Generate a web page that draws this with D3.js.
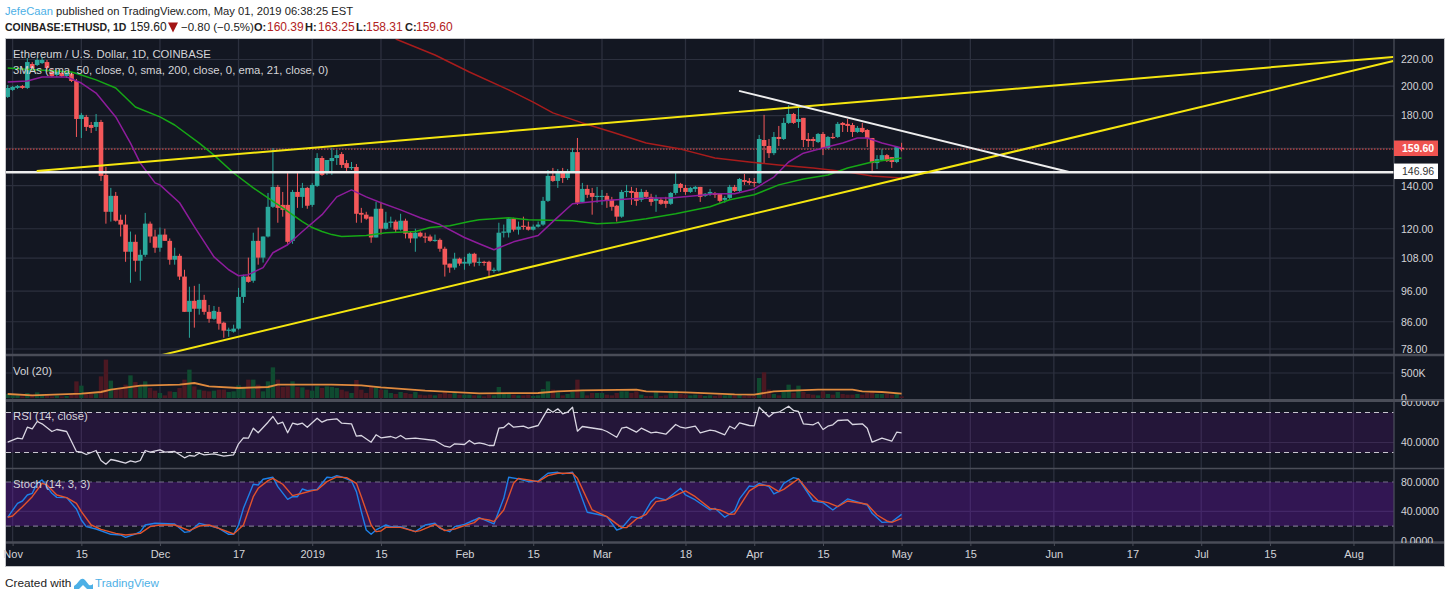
<!DOCTYPE html>
<html>
<head>
<meta charset="utf-8">
<script src="https://cdn.jsdelivr.net/npm/d3@7/dist/d3.min.js"></script>
<style>
    html, body { margin: 0; padding: 0; background: #fff; overflow: hidden; }
    text { font-family: "Liberation Sans", sans-serif; }
</style>
</head>
<body>
<div id="container"></div>
<script>
// daily candles, first one is 2018-10-31
var opens = [192.4,197.3,198.7,200.1,198.7,216.5,215.7,217.2,218,211.1,208.1,209.6,207.4,208.9,203.7,177.8,179.1,174,172.8,175.9,145.5,127.5,135,123.9,121.8,110.5,114.5,107,109.3,122.2,116.7,112.1,117.5,114.9,107.4,108.9,101.1,89.1,92.7,90.1,93,89.1,86.9,89.1,85.7,83.3,83,83.9,94,101.1,99.6,114.9,108.2,116.7,129.8,139.4,130.7,130.7,114.9,136.9,134.5,138.9,130.7,139.9,154.6,147,152.9,154.6,156.8,151.8,149.2,149.7,127,126.2,125.3,116.3,128.9,120,122.6,123.1,119.6,123.5,118.3,115.9,118.3,116.7,116.7,114.9,115.3,111.7,105.9,104.4,107.8,105.9,105.9,109.7,106.3,106.6,106.6,103.3,103.3,118.3,118.3,124.4,119.6,121.3,120.9,119.6,120.9,121.8,132.6,145,142.4,147,143.9,146.5,157.9,132.1,138.4,136.4,134.5,134.5,135,133.1,130.3,125.3,136.9,137.4,136.9,133.1,136.9,134.5,132.6,133.1,132.6,131.2,136.4,140.9,138.9,136.9,138.4,139.4,135,136,136.4,136,133.1,134,139.4,137.4,142.9,142.4,141.9,141.4,164.9,161.4,157.3,166.7,165.5,175.3,181,175.9,178.5,165.5,165.5,163.7,168.5,160.2,166.7,166.7,175.3,174.7,174,169.7,172.2,170.9,166.1,151.8,153.5,156.2,155.1,152.4,160.39];
var highs = [200.8,200.1,200.8,200.8,221.2,218,221.2,222,219.6,213.4,211.1,210.4,210.4,209.6,205.2,181.7,180.4,175.9,181,177.2,149.7,138.9,136.9,126.2,126.2,118.8,117.5,111.3,127,123.1,119.6,120.5,120,115.9,112.1,109.7,103.6,97.5,97.8,98.5,94.7,91.3,91,90.7,86,84.2,85.1,97.1,101.8,108.2,118.3,120.5,116.7,136.4,160.2,140.4,136.9,146.5,137.9,147,141.4,139.4,141.4,157.3,155.7,153.5,160.2,159.1,157.9,153.5,152.4,151.3,129.3,127.5,125.3,132.1,132.1,127.5,125.3,123.9,126.6,124.4,118.8,120,118.8,118.3,117.5,117.5,115.9,112.5,105.9,110.1,108.2,108.5,110.1,110.1,108.2,107,107,104.4,122.6,121.8,124.8,124.8,123.1,125.3,123.1,121.8,123.1,134.5,148.1,149.2,148.6,149.2,148.6,160.2,166.1,141.4,140.4,138.9,139.4,137.9,136.4,134.5,130.7,137.9,140.4,139.4,138.9,138.4,137.9,136,135.5,134,134.5,136.9,146.5,141.4,140.4,139.4,139.9,139.4,136.4,138.4,136.9,136.4,135,140.4,140.4,143.9,146,143.9,143.9,167.9,180.4,165.5,169.7,173.4,178.5,186.8,181.7,184.9,178.5,169.1,166.7,169.1,169.7,167.3,169.1,175.9,175.9,177.8,175.3,173.4,175.3,171.5,166.1,156.2,159.6,156.8,155.1,161.4,163.25];
var lows = [191.7,196.6,198,198,198,210.4,214.9,216.5,210.4,206.6,206.6,206.6,205.9,202.9,166.7,166.1,170.3,169.1,170.3,142.4,122.2,123.1,123.1,116.7,106.6,98.9,102.9,99.6,108.5,114.1,110.1,110.5,114.9,105.5,105.5,99.9,89.1,81.2,84.2,88.2,88.2,85.7,86.6,83.6,81.2,81.5,82.7,83.6,92,98.9,98.9,105.5,106.3,116.3,129.3,122.6,125.3,113.7,113.7,129.3,129.3,128.9,129.8,139.4,145,145.5,145.5,150.8,149.2,147.6,148.1,122.6,122.6,123.9,114.1,116.3,117.5,119.6,120.5,118.3,119.2,115.9,114.1,110.5,116.3,114.1,114.5,114.5,110.5,101.1,102.5,103.6,105.1,103.6,105.1,104.8,105.1,105.1,101.1,102.5,102.9,116.3,116.3,118.8,117.5,119.6,119.2,119.2,120.5,121.3,132.1,141.9,138.9,141.4,142.9,146.5,130.7,131.7,134,126.2,131.7,130.7,129.3,128,123.1,124.8,134.5,130.7,130.3,132.1,134,130.3,127.5,130.7,129.3,130.7,135.5,136.9,135.5,136.4,136.9,132.1,134.5,135,134,131.7,131.7,133.1,136.9,136.9,140.4,140.4,139.4,140.9,151.3,154.6,156.2,161.4,164.9,174.7,174.7,172.2,160.8,160.8,160.8,163.1,156.2,159.6,165.5,166.1,169.7,169.7,166.7,169.1,169.1,160.8,147.6,148.6,152.9,152.4,149.2,151.8,158.31];
var closes = [198.7,199.4,200.1,198.7,218,213.4,219.6,219.6,213.4,207.4,210.4,207.4,209.6,203.7,177.8,180.4,172.8,172.2,175.9,145,127.5,135,123.5,121.8,110.5,114.5,107,109.3,122.2,116.7,112.1,117.5,114.9,107.4,108.9,101.1,89.1,92.7,90.1,93,89.1,86.9,89.4,85.4,83.3,83.6,83.9,94,101.1,99.2,114.9,108.2,116.7,129.8,139.4,129.3,128.4,114.5,136.9,134.5,138.9,130.3,140.4,154.6,145.5,153.5,154.6,156.2,150.8,149.2,149.7,126.6,126.2,124.4,116.3,128.9,120,122.6,123.1,119.6,123.5,117.9,115.9,118.3,116.7,116.3,114.9,115.3,111.7,105.5,104.4,107.8,105.9,106.6,109.7,106.3,106.6,106.3,103.3,103.6,118.3,118.8,124.4,119.6,120.9,120.9,119.6,120.9,121.8,132.6,145,142.4,146.5,143.9,146.5,157.9,131.7,138.4,135.5,134.5,135,135,132.6,129.8,125.3,136.9,137.4,136.4,132.6,136.9,134.5,132.1,133.6,131.2,131.2,136.4,140.9,138.9,136.9,138.9,139.4,134.5,136,136.9,135.5,132.6,134,139.4,137.4,143.4,141.9,141.4,141.4,165.5,161.4,157.3,166.7,165.5,175.3,181,175.3,177.8,164.9,164.3,164.3,168.5,160.2,166.7,166.1,174.7,174,173.4,169.7,172.2,169.7,166.1,151.8,154,156.2,152.9,152.4,160.8,159.6];
// thousands
var volumes = [80,53,53,33,100,67,113,67,53,33,47,33,40,67,333,247,100,80,87,433,767,347,167,200,267,453,320,233,333,200,147,100,53,133,120,200,367,567,233,167,147,133,147,167,167,120,133,253,200,367,367,267,133,333,613,367,220,233,333,220,213,167,147,233,200,233,220,200,167,133,100,360,167,100,233,213,167,167,100,80,120,100,80,120,67,53,67,53,80,120,80,100,67,67,67,53,53,33,67,53,220,80,80,67,53,53,67,40,53,180,333,167,113,53,80,120,367,133,53,100,100,100,67,53,100,133,133,100,133,67,40,40,120,40,53,100,147,80,67,53,67,67,40,53,40,67,53,80,53,80,40,53,40,400,513,167,80,53,120,267,100,247,120,80,67,53,133,80,67,120,80,67,67,80,67,100,120,80,80,80,67,100,33];

// indicator lines, read at the turning points: day offset from Nov 1 and value
var smaFastDays = [-1,2,12,14,17,21,25,30,33,38,41,45,49,52,55,59,61,63,65,67,72,76,82,85,89,93,95,101,105,114,119,123,129,135,142,146,151,156,161,166,170,175,181];
var smaFastValues = [213.4,212.6,210.4,208.1,204.5,198.7,185.6,179.1,174,163.1,156.2,146.5,138.9,134,129.3,123.1,120.5,118.8,117.5,116.7,117.1,118.3,118.8,120.5,121.3,123.1,123.9,124.8,123.9,123.5,122.2,122.6,124.4,126.6,129.8,133.1,135.5,140.4,143.4,145.5,149.2,152.4,154.6];
var smaSlowDays = [78,86,93,101,106,110,116,122,129,136,143,150,156,163,170,175,181];
var smaSlowValues = [236.8,223.6,210.4,197.3,188.9,181.7,175.3,169.7,163.1,159.6,154.6,152.4,150.8,149.2,147,145,143.9];
var emaDays = [-1,3,6,11,14,17,21,24,26,29,30,34,37,41,44,46,48,51,53,56,59,63,66,69,72,75,79,83,87,92,95,98,102,107,110,114,116,120,126,131,134,139,143,147,151,155,158,161,165,169,172,174,177,181];
var emaValues = [203,203.7,206.7,206.7,202.2,195.1,179.1,163.1,151.8,141.4,140.4,131.7,120.9,108.5,103.6,101.4,101.8,104.4,110.1,113.3,118.8,126.2,134.5,137.9,134.5,131.7,128.4,124.8,121.8,116.3,113.7,111.3,114.5,117.1,123.1,131.2,131.7,132.6,133.6,134,134,135,136,136,138.4,144.4,152.4,157.3,160.2,163.1,166.1,166.1,163.1,160.2];
var volMaDays = [-1,4,14,18,20,26,34,37,40,46,52,54,65,71,75,84,95,107,111,116,127,129,137,147,151,155,164,171,173,177,181];
var volMaValues = [80,53,87,120,167,247,267,300,233,200,220,267,267,253,213,147,93,100,133,153,167,133,113,73,67,133,167,167,133,120,87];
var rsiDays = [-1,1,2,3,4,5,6,8,9,11,13,14,15,17,18,19,20,21,23,24,25,26,27,28,30,31,33,35,36,37,38,39,41,43,45,46,47,48,49,50,52,53,54,55,56,57,58,59,60,62,63,64,66,67,69,70,71,73,74,75,77,78,79,80,82,86,88,89,90,92,93,94,95,96,97,98,99,100,101,102,104,105,107,108,109,110,111,112,113,114,115,116,120,121,123,124,125,127,128,130,131,133,135,136,137,139,140,142,143,145,146,147,148,150,151,152,154,155,156,158,159,160,161,163,164,165,166,167,168,170,171,173,174,175,177,179,180,181];
var rsiValues = [40.3,44.3,43.7,55.3,53.7,61,58.7,51,53,51,31,30.3,28,32,22,18.3,23,22,19.3,21.7,20.3,22,32,30.3,32.7,30.3,31,24.7,27,26.3,29.3,27.7,28.7,26.3,27.7,38.7,44.7,44.3,54.3,49.7,60.3,66,58.7,60.3,49.7,59.3,58,59.3,55.3,64.3,60.3,62.7,63.7,59.3,58.7,46.3,47,40.3,47.7,44.7,46,44.3,47,43.7,44.3,42,36.3,35.3,38.7,38,42,38.7,39.7,38.7,37,37,54.3,55,59.3,55.3,56.3,54.3,57,65.3,73.7,70.3,73.7,68.7,70.3,75.3,51.3,56,53,51,45.3,54.3,55.3,50.3,54.3,49.7,50.3,48.3,58,55.3,54.3,56.3,49.7,52.3,51.7,47.7,56.3,53.7,59.7,57,56.7,75.3,65.7,69.7,70.3,76.3,72,71,58.7,57.7,60.3,53,56.3,57.7,62,62.7,58,58.7,54.3,40.3,44.3,41.3,50.3,49.7];
var stochKDays = [-1,1,2,3,4,5,6,7,8,9,11,13,14,15,17,20,22,23,25,26,27,29,33,35,36,38,40,42,44,45,46,47,49,50,51,53,54,56,57,58,59,60,62,64,65,66,67,69,70,71,72,73,74,76,77,79,82,84,86,87,89,90,92,94,95,98,100,101,103,105,107,109,111,112,114,117,119,121,123,124,126,128,130,131,133,136,137,139,142,143,145,147,148,150,151,152,154,155,156,157,159,160,163,165,167,170,174,175,177,179,181];
var stochKValues = [31.9,51,54.1,62.3,64.6,78.2,82.8,73.7,64.6,59.1,58.7,43.2,28.2,19.1,15.9,8.7,7.8,4.6,9.1,12.3,21.4,23.7,22.8,11.4,12.3,23.7,20.5,16.9,8.7,8.7,21.4,44.1,76.9,76,83.7,86.4,73.7,56.4,60,60,70.5,68.2,70,86.4,86,88.7,86.9,81.4,66.9,39.6,14.6,8.7,14.6,21.4,19.1,19.1,12.3,21.4,23.7,16.9,12.3,19.1,22.3,28.2,31.4,22.8,57.8,86.4,84.2,80.5,81.4,91.9,93.2,91,93.2,38.7,36,32.8,14.6,16.9,32.8,30.5,53.2,59.1,55.5,71.4,62.3,55.5,41.9,44.1,31.9,41,56.9,74.6,73.7,78.2,73.7,63.7,66.9,78.2,86,84.2,54.1,51.9,41.9,56.9,48.7,37.3,25,25.9,35.9];
var stochDDays = [-1,0,2,4,6,7,9,11,13,14,16,18,21,23,26,28,30,33,36,38,40,42,45,47,49,50,52,53,55,57,59,61,62,64,66,68,70,71,73,74,75,76,79,82,83,86,88,90,92,94,95,97,98,100,102,103,105,107,109,111,114,115,118,121,124,125,127,129,131,133,137,139,142,144,146,147,150,152,154,156,157,160,162,164,166,168,170,174,176,178,179,181];
var stochDValues = [31.9,33.7,46.4,60,78.2,76,62.3,58.7,51,39.6,21.4,15.5,10,7.8,10,19.1,21.4,21.4,13.7,20,21.4,16.9,9.1,21.4,60,71.4,81.9,85,76.9,61.4,64.6,68.2,69.2,80.5,86.9,86,78.2,60,21.4,12.3,13.2,18.2,18.2,12.3,13.7,22.3,13.7,15.9,20.5,24.6,30.5,28.2,26,41.9,78.2,85,82.8,80.5,88.7,91.9,91.9,85,41.9,32.8,17.8,17.8,29.6,36,53.2,55.5,67.8,60,44.1,41.9,36,36.4,67.8,76,75.1,66.9,70,84.2,67.8,54.6,51.9,46.4,54.1,49.6,35,26.9,25,30.5];

// hand drawn lines on the chart: [day, price] ends
var yellowUpperDays = [4.9,281.1];
var yellowUpperPrices = [147.6,222];
var yellowLowerDays = [30.3,281.1];
var yellowLowerPrices = [76.3,218.8];
var whiteTrendDays = [147.9,215.1];
var whiteTrendPrices = [196.6,147];
var supportPrice = 146.96;
var lastPrice = 159.60;

var priceTicks = [220,200,180,160,140,120,108,96,86,78];
var priceTickLabels = [220,200,180,140,120,108,96,86,78];
var volTicks = [0,500];
var rsiTicks = [40,80];
var rsiBands = [30,70];
var stochTicks = [0,40,80];
var stochBands = [20,80];
var timeTicks = ["2018-11-01","2018-11-15","2018-12-01","2018-12-17","2019-01-01","2019-01-15","2019-02-01","2019-02-15","2019-03-01","2019-03-18","2019-04-01","2019-04-15","2019-05-01","2019-05-15","2019-06-01","2019-06-17","2019-07-01","2019-07-15","2019-08-01"];
var timeLabels = ["Nov","15","Dec","17","2019","15","Feb","15","Mar","18","Apr","15","May","15","Jun","17","Jul","15","Aug"];

var width = 1450, height = 599;
var paneLeft = 6, paneRight = 1394, outerRight = 1444, paneTop = 39, timeTop = 543, paneBottom = 566;
var mainBottom = 354, volTop = 356, volBottom = 400, rsiTop = 402, rsiBottom = 468, stochTop = 469;

var bg = "#131722", gridCol = "#2c303e", dividerCol = "#4a4d58", textCol = "#d3d4d8";
var upCol = "#2aa79b", downCol = "#f4585a";

var dayZero = new Date(Date.UTC(2018, 10, 1));
function dayDate(d){
    return new Date(dayZero.getTime() + d * 864e5);
}

var x = d3.scaleUtc().domain([dayDate(0), dayDate(181)]).range([12.6, 901.6]);
var yPrice = d3.scaleLog().domain([78, 220]).range([349, 59.5]);
var yVol = d3.scaleLinear().domain([0, 500]).range([398, 373]);
var yRsi = d3.scaleLinear().domain([40, 80]).range([442.5, 402.5]);
var yStoch = d3.scaleLinear().domain([0, 80]).range([540.7, 482]);

var svg = d3.select("#container").append("svg")
    .attr("width", width)
    .attr("height", height);

// header
var head = svg.append("text").attr("x", 5).attr("y", 15).style("font-size", "11.2px").attr("fill", "#222");
head.append("tspan").attr("fill", "#4db0e6").text("JefeCaan");
head.append("tspan").text(" published on TradingView.com, May 01, 2019 06:38:25 EST");

var row = svg.append("g");
var rowItems = [
    [5, "COINBASE:ETHUSD, 1D", "#222", 700, 10.5], [130, "159.60", "#222", 400, 12],
    [181, "\u22120.80 (\u22120.5%)", "#222", 400, 11.5], [254, "O:", "#222", 700, 11], [267, "160.39", "#b22222", 400, 12],
    [305, "H:", "#222", 700, 11], [318, "163.25", "#b22222", 400, 12], [356, "L:", "#222", 700, 11], [366, "158.31", "#b22222", 400, 12],
    [405, "C:", "#222", 700, 11], [416, "159.60", "#b22222", 400, 12]
];
rowItems.forEach(function(it){
    row.append("text").attr("x", it[0]).attr("y", 31).attr("fill", it[2]).attr("font-weight", it[3])
        .style("font-size", it[4] + "px").text(it[1]);
});
svg.append("path").attr("d", "M168,22.5h10l-5,10z").attr("fill", "#a31515");

// chart background
svg.append("rect")
    .attr("x", paneLeft - 0.5).attr("y", paneTop - 0.5)
    .attr("width", outerRight - paneLeft + 1).attr("height", paneBottom - paneTop + 1)
    .attr("fill", bg).attr("stroke", "#c4c5c8");

// clip per pane
var defs = svg.append("defs");
function addClip(id, y0, y1, x1){
    defs.append("clipPath").attr("id", id).append("rect")
        .attr("x", paneLeft).attr("y", y0).attr("width", x1 - paneLeft).attr("height", y1 - y0);
}
addClip("clipMain", paneTop, mainBottom, paneRight);
addClip("clipVol", volTop, volBottom, paneRight);
addClip("clipRsi", rsiTop, rsiBottom, paneRight);
addClip("clipStoch", stochTop, timeTop - 1, paneRight);
addClip("clipMainAxis", paneTop, mainBottom, outerRight);
addClip("clipVolAxis", volTop - 2, volBottom, outerRight);
addClip("clipRsiAxis", rsiTop - 1, rsiBottom, outerRight);
addClip("clipStochAxis", stochTop, timeTop, outerRight);

// vertical grid + time axis
var tickDates = timeTicks.map(function(s){ return new Date(s + "T00:00:00Z"); });
var timeAxis = d3.axisBottom(x)
    .tickValues(tickDates)
    .tickSize(3)
    .tickFormat(function(d, i){ return timeLabels[i]; });
svg.append("g").attr("class", "vgrid").selectAll("line")
    .data(tickDates).enter().append("line")
    .attr("x1", function(d){ return x(d); })
    .attr("x2", function(d){ return x(d); })
    .attr("y1", paneTop).attr("y2", timeTop)
    .attr("stroke", gridCol).attr("stroke-width", 1.3);

var timeG = svg.append("g").attr("transform", "translate(0," + timeTop + ")").call(timeAxis);
timeG.select(".domain").remove();
timeG.selectAll("line").attr("stroke", dividerCol);
timeG.selectAll("text")
    .attr("fill", textCol).attr("y", 7).style("font-size", "11px")
    .style("font-family", "'Liberation Sans', sans-serif");

// horizontal grid
function hGrid(values, scale){
    svg.append("g").selectAll("line").data(values).enter().append("line")
        .attr("x1", paneLeft).attr("x2", paneRight)
        .attr("y1", function(d){ return scale(d); })
        .attr("y2", function(d){ return scale(d); })
        .attr("stroke", gridCol).attr("stroke-width", 1.2);
}
hGrid(priceTicks, yPrice);
hGrid([500], yVol);
hGrid([40], yRsi);
hGrid([40], yStoch);

// rsi / stoch bands sit over the grid
svg.append("rect").attr("x", paneLeft).attr("width", paneRight - paneLeft)
    .attr("y", yRsi(rsiBands[1])).attr("height", yRsi(rsiBands[0]) - yRsi(rsiBands[1]))
    .attr("fill", "#7a14aa").attr("fill-opacity", 0.17);
svg.append("rect").attr("x", paneLeft).attr("width", paneRight - paneLeft)
    .attr("y", yStoch(stochBands[1])).attr("height", yStoch(stochBands[0]) - yStoch(stochBands[1]))
    .attr("fill", "#7a14c8").attr("fill-opacity", 0.3);

function dashLine(v, scale, col){
    svg.append("line").attr("x1", paneLeft).attr("x2", paneRight)
        .attr("y1", scale(v)).attr("y2", scale(v))
        .attr("stroke", col).attr("stroke-width", 1.2).attr("stroke-dasharray", "5,4");
}
rsiBands.forEach(function(v){ dashLine(v, yRsi, "#c9c6d0"); });
stochBands.forEach(function(v){ dashLine(v, yStoch, "#77718a"); });

// candles
var candles = opens.map(function(o, i){
    return {date: dayDate(i - 1), open: o, high: highs[i], low: lows[i], close: closes[i], vol: volumes[i]};
});
function isUp(d){ return d.close >= d.open; }

var main = svg.append("g").attr("clip-path", "url(#clipMain)");

var lineFor = function(scale){
    return d3.line()
        .x(function(d){ return x(dayDate(d[0])); })
        .y(function(d){ return scale(d[1]); });
};
function drawLine(g, days, values, scale, col, w){
    g.append("path")
        .attr("d", lineFor(scale)(d3.zip(days, values)))
        .attr("fill", "none").attr("stroke", col).attr("stroke-width", w)
        .attr("stroke-linejoin", "round");
}

// dotted last price line goes under the candles
main.append("line").attr("x1", paneLeft).attr("x2", paneRight)
    .attr("y1", yPrice(lastPrice)).attr("y2", yPrice(lastPrice))
    .attr("stroke", "#ef5350").attr("stroke-width", 1).attr("stroke-dasharray", "1.5,1.5");

main.selectAll(".wick").data(candles).enter().append("line")
    .attr("class", "wick")
    .attr("x1", function(d){ return x(d.date); })
    .attr("x2", function(d){ return x(d.date); })
    .attr("y1", function(d){ return yPrice(d.high); })
    .attr("y2", function(d){ return yPrice(d.low); })
    .attr("stroke", function(d){ return isUp(d) ? upCol : downCol; })
    .attr("stroke-width", 1);

main.selectAll(".body").data(candles).enter().append("rect")
    .attr("class", "body")
    .attr("x", function(d){ return x(d.date) - 2.3; })
    .attr("width", 4.6)
    .attr("y", function(d){ return yPrice(Math.max(d.open, d.close)); })
    .attr("height", function(d){ return Math.max(1.2, Math.abs(yPrice(d.open) - yPrice(d.close))); })
    .attr("fill", function(d){ return isUp(d) ? upCol : downCol; });

drawLine(main, smaSlowDays, smaSlowValues, yPrice, "#a81c1c", 1.5);
drawLine(main, smaFastDays, smaFastValues, yPrice, "#16a816", 1.5);
drawLine(main, emaDays, emaValues, yPrice, "#8e1c9c", 1.5);

// drawings
main.append("line").attr("x1", paneLeft).attr("x2", paneRight)
    .attr("y1", yPrice(supportPrice)).attr("y2", yPrice(supportPrice))
    .attr("stroke", "#eeeeee").attr("stroke-width", 2.5);
drawLine(main, yellowUpperDays, yellowUpperPrices, yPrice, "#f5e60f", 2);
drawLine(main, yellowLowerDays, yellowLowerPrices, yPrice, "#f5e60f", 2);
drawLine(main, whiteTrendDays, whiteTrendPrices, yPrice, "#eeeeee", 2);

// volume
var vol = svg.append("g").attr("clip-path", "url(#clipVol)");
vol.selectAll("rect").data(candles).enter().append("rect")
    .attr("x", function(d){ return x(d.date) - 2.2; })
    .attr("width", 4.4)
    .attr("y", function(d){ return yVol(d.vol); })
    .attr("height", function(d){ return yVol(0) - yVol(d.vol); })
    .attr("fill", function(d){ return isUp(d) ? "#0f4a30" : "#4b1822"; });
drawLine(vol, volMaDays, volMaValues, yVol, "#e08a3e", 1.8);

// rsi
var rsi = svg.append("g").attr("clip-path", "url(#clipRsi)");
drawLine(rsi, rsiDays, rsiValues, yRsi, "#d9d6e2", 1.3);

// stoch
var stoch = svg.append("g").attr("clip-path", "url(#clipStoch)");
drawLine(stoch, stochKDays, stochKValues, yStoch, "#1e80e8", 1.4);
drawLine(stoch, stochDDays, stochDValues, yStoch, "#e2532c", 1.4);

// pane dividers
[[mainBottom + 1, 2.5], [volBottom + 0.5, 3], [rsiBottom + 0.5, 1.5], [timeTop - 0.5, 2.5]].forEach(function(v){
    svg.append("line").attr("x1", paneLeft).attr("x2", outerRight)
        .attr("y1", v[0]).attr("y2", v[0])
        .attr("stroke", dividerCol).attr("stroke-width", v[1]);
});
svg.append("line").attr("x1", paneRight).attr("x2", paneRight).attr("y1", paneTop).attr("y2", paneBottom)
    .attr("stroke", dividerCol).attr("stroke-width", 1.3);

// value axes
function valueAxis(scale, values, fmt, clip){
    var g = svg.append("g")
        .attr("transform", "translate(" + paneRight + ",0)")
        .attr("clip-path", "url(#" + clip + ")")
        .call(d3.axisRight(scale).tickValues(values).tickSize(4).tickFormat(fmt));
    g.select(".domain").remove();
    g.selectAll("line").attr("stroke", dividerCol);
    g.selectAll("text").attr("fill", textCol).attr("x", 7).style("font-size", "10.5px")
        .style("font-family", "'Liberation Sans', sans-serif");
}
valueAxis(yPrice, priceTickLabels, d3.format(".2f"), "clipMainAxis");
valueAxis(yVol, volTicks, function(d){ return d ? d + "K" : "0"; }, "clipVolAxis");
valueAxis(yRsi, rsiTicks, d3.format(".4f"), "clipRsiAxis");
valueAxis(yStoch, stochTicks, d3.format(".4f"), "clipStochAxis");

// price tags
function priceTag(v, col, txt, w){
    var cy = yPrice(v) - 0.8;
    svg.append("rect").attr("x", paneRight).attr("y", cy - 7.8).attr("width", 44).attr("height", 15.5).attr("fill", col);
    svg.append("text").attr("x", paneRight + 8).attr("y", cy + 3.8)
        .attr("fill", txt).attr("font-weight", w).style("font-size", "10.5px").text(v.toFixed(2));
}
priceTag(lastPrice, "#ef5350", "#ffffff", 700);
priceTag(supportPrice, "#ffffff", "#333333", 400);

// legends
var legendStyle = function(sel){ sel.attr("fill", textCol).style("font-size", "11.3px"); };
svg.append("text").attr("x", 13).attr("y", 58).call(legendStyle).text("Ethereum / U.S. Dollar, 1D, COINBASE");
svg.append("text").attr("x", 13).attr("y", 74).call(legendStyle).text("3MAs (sma, 50, close, 0, sma, 200, close, 0, ema, 21, close, 0)");
svg.append("text").attr("x", 13).attr("y", 375).call(legendStyle).text("Vol (20)");
svg.append("text").attr("x", 13).attr("y", 420).call(legendStyle).text("RSI (14, close)");
svg.append("text").attr("x", 13).attr("y", 488).call(legendStyle).text("Stoch (14, 3, 3)");

// footer
svg.append("text").attr("x", 5).attr("y", 587).attr("fill", "#222").style("font-size", "11.8px").text("Created with");
svg.append("path")
    .attr("d", "M74,589 v-3 q3,-2 5,-5 q3,-4 6,-1 l4,5 q2,1 4,-1 v5 h-6 l-4,-4 l-4,4 z")
    .attr("fill", "#4db0e6");
svg.append("text").attr("x", 95).attr("y", 587).attr("fill", "#4db0e6").style("font-size", "11.6px").text("TradingView");
</script>
</body>
</html>
